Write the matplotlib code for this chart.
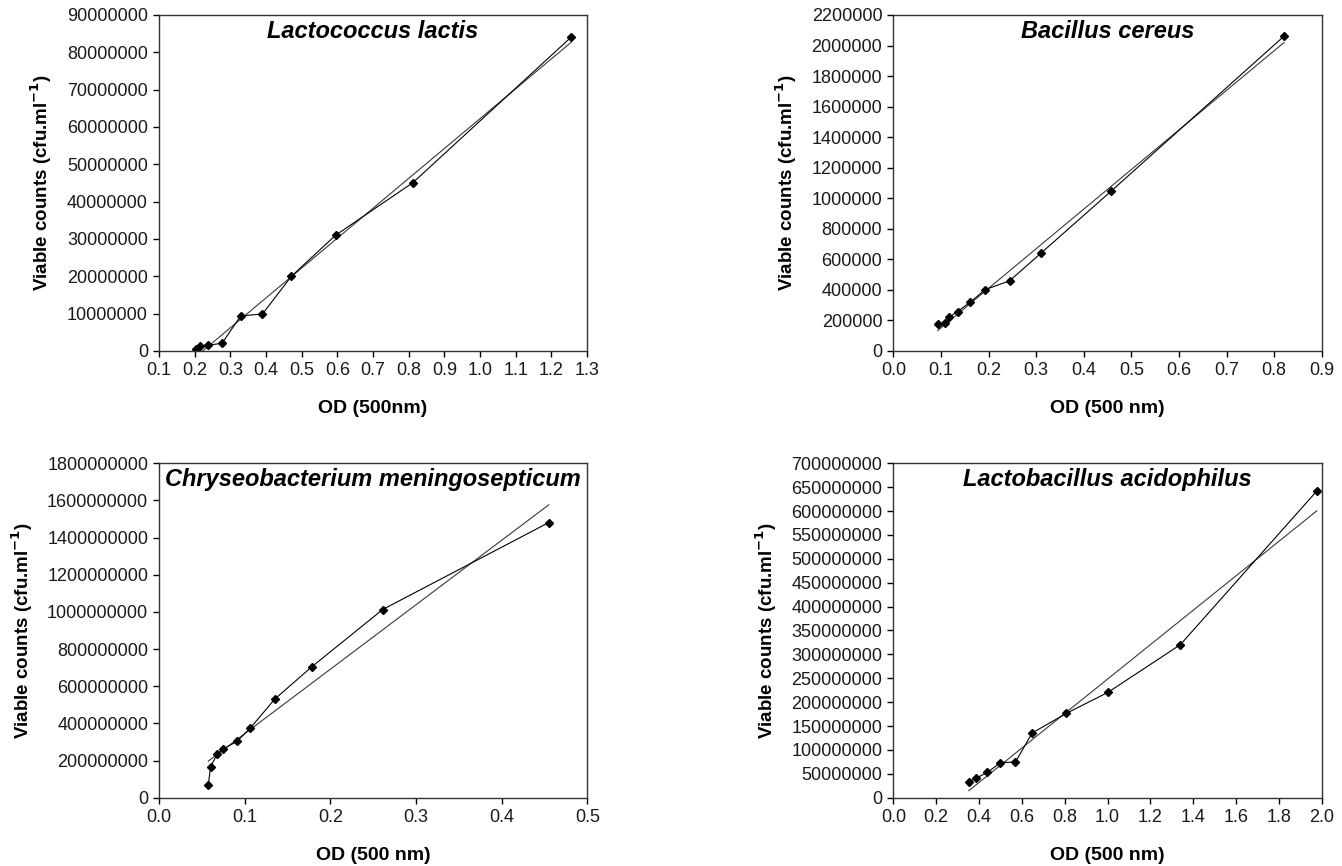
import numpy as np
import matplotlib
matplotlib.use('Agg')
import matplotlib.pyplot as plt
from matplotlib.ticker import FormatStrFormatter

plt.rcParams['font.family'] = ['Liberation Sans', 'DejaVu Sans']

# Lactococcus lactis
od_ll = [0.203, 0.215, 0.237, 0.277, 0.329, 0.390, 0.471, 0.595, 0.812, 1.256]
cfu_ll = [450000, 1430000, 1500000, 2100000, 9400000, 9900000, 20000000, 31000000, 45100000, 84100000]

# Bacillus cereus
od_bc = [0.093, 0.109, 0.117, 0.135, 0.162, 0.193, 0.244, 0.311, 0.457, 0.821]
cfu_bc = [175000, 181000, 221000, 258000, 321000, 402000, 459000, 643000, 1045000, 2062000]

# Chryseobacterium meningosepticum
od_cm = [0.0572, 0.060, 0.0674, 0.0748, 0.0907, 0.106, 0.135, 0.178, 0.261, 0.455]
cfu_cm = [68e6, 167e6, 233e6, 262e6, 303e6, 373e6, 531e6, 704e6, 1013e6, 1481e6]

# Lactobacillus acidophilus
od_la = [0.352, 0.388, 0.439, 0.500, 0.570, 0.648, 0.808, 1.002, 1.340, 1.977]
cfu_la = [32.8e6, 41.2e6, 53e6, 73.3e6, 74.7e6, 135.4e6, 176.6e6, 220.5e6, 320.3e6, 642e6]

panels = [
    # (x, y, title, xlabel, xlim, xstep, ymax, ystep, axes rect)
    (od_ll, cfu_ll, 'Lactococcus lactis', 'OD (500nm)', (0.1, 1.3), 0.1, 90000000, 10000000,
     [0.1185, 0.5947, 0.3189, 0.388]),
    (od_bc, cfu_bc, 'Bacillus cereus', 'OD (500 nm)', (0.0, 0.9), 0.1, 2200000, 200000,
     [0.6657, 0.5947, 0.3192, 0.388]),
    (od_cm, cfu_cm, 'Chryseobacterium meningosepticum', 'OD (500 nm)', (0.0, 0.5), 0.1, 1800000000, 200000000,
     [0.1187, 0.0789, 0.3189, 0.3861]),
    (od_la, cfu_la, 'Lactobacillus acidophilus', 'OD (500 nm)', (0.0, 2.0), 0.2, 700000000, 50000000,
     [0.6657, 0.0789, 0.3192, 0.3861]),
]

fig = plt.figure(figsize=(13.42, 8.66), dpi=100)

for x, y, title, xlab, xlim, xstep, ymax, ystep, rect in panels:
    ax = fig.add_axes(rect)
    x = np.array(x)
    y = np.array(y)
    # linear regression line
    m, c = np.polyfit(x, y, 1)
    xf = np.array([x.min(), x.max()])
    ax.plot(xf, m*xf + c, '-', color='#3a3a3a', lw=0.8)
    # measured points joined
    ax.plot(x, y, '-', color='black', lw=0.8, marker='D', ms=4, mfc='black', mec='black')

    ax.set_xlim(*xlim)
    ax.set_ylim(0, ymax)
    ax.set_xticks(np.arange(xlim[0], xlim[1] + xstep/2, xstep))
    ax.set_yticks(np.arange(0, ymax + ystep/2, ystep))
    ax.xaxis.set_major_formatter(FormatStrFormatter('%.1f'))
    ax.yaxis.set_major_formatter(FormatStrFormatter('%d'))
    ax.tick_params(direction='out', length=4, width=1, labelsize=13, pad=4,
                   top=False, right=False, labelcolor='#1a1a1a')
    for s in ax.spines.values():
        s.set_linewidth(1.0)
        s.set_color('#333333')

    ax.text(0.5, 0.952, title, transform=ax.transAxes, ha='center', va='center',
            fontsize=17, fontweight='bold', fontstyle='italic')
    ax.set_xlabel(xlab, fontsize=14, fontweight='bold', labelpad=15)
    ax.set_ylabel('Viable counts (cfu.ml$^{\\mathbf{-1}}$)', fontsize=13.5,
                  fontweight='bold', labelpad=9)

fig.savefig('out.png', dpi=100)
